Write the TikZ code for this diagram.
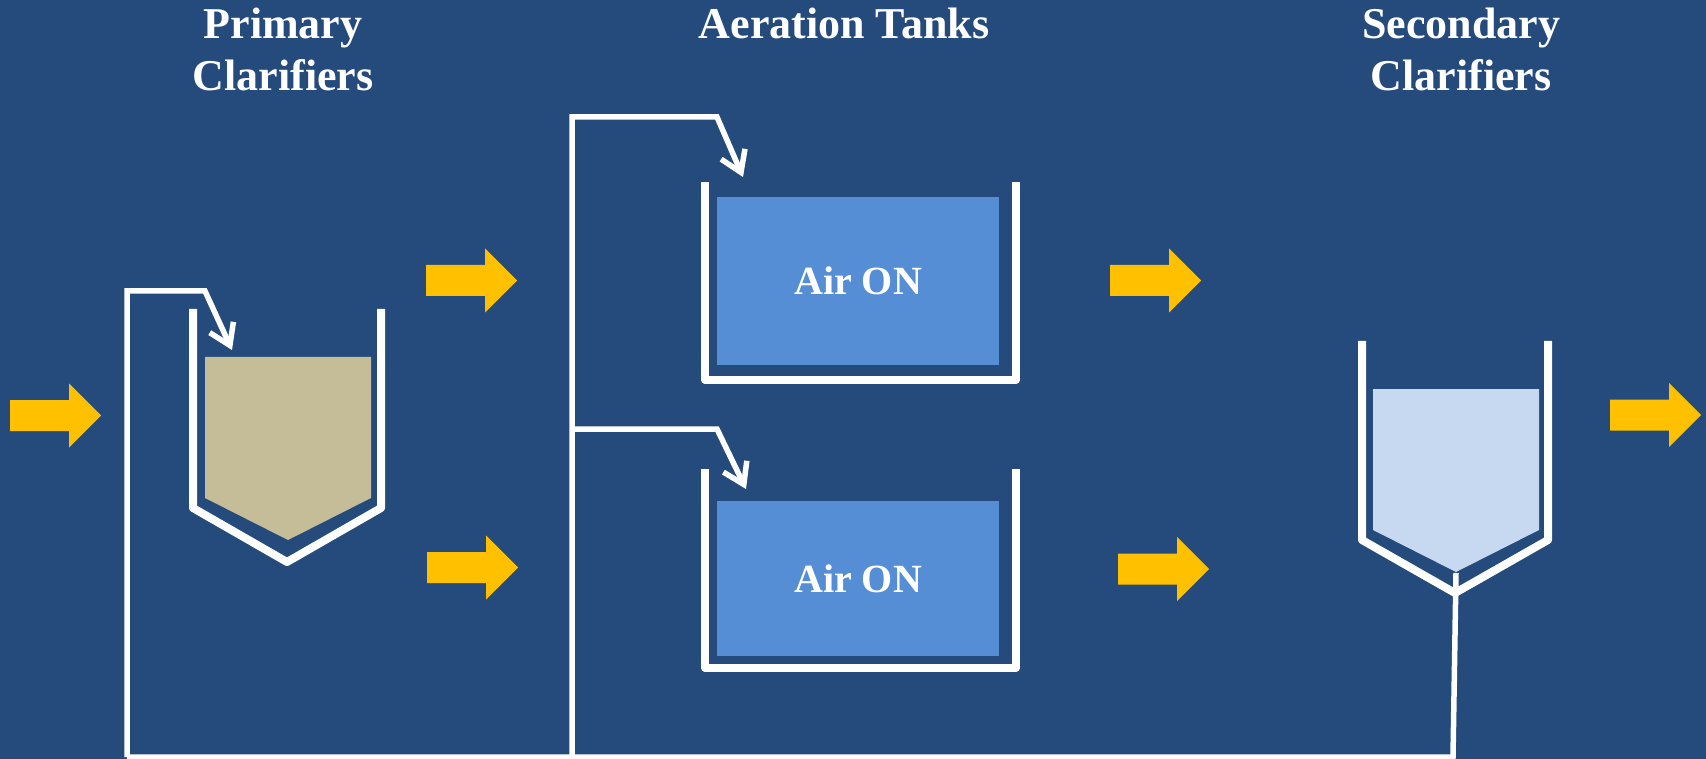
\documentclass[tikz,border=0pt]{standalone}
\usepackage{fontspec}
\setmainfont{Liberation Serif}
\usetikzlibrary{arrows.meta}
\definecolor{bg}{RGB}{37,74,124}
\definecolor{flowyellow}{RGB}{255,192,0}
\definecolor{airblue}{RGB}{85,142,213}
\definecolor{sludge}{RGB}{196,189,151}
\definecolor{clearblue}{RGB}{198,217,241}
\begin{document}
\begin{tikzpicture}[x=1pt,y=-1pt,
  title/.style={text=white,font=\fontsize{44}{52}\selectfont\bfseries,anchor=base,inner sep=0pt},
  airtank/.style={fill=airblue,text=white,font=\fontsize{40}{48}\selectfont\bfseries,
    minimum width=282pt,inner sep=0pt},
  wall/.style={draw=white,line width=8pt,line join=round},
  pipe/.style={draw=white,line width=5.5pt},
  feed/.style={pipe,-{Straight Barb[length=20pt,width=26pt]}},
  flowarrow/.pic={\fill[flowyellow] (0,-15.5) -- (59,-15.5) -- (59,-32) -- (91,0) -- (59,32) -- (59,15.5) -- (0,15.5) -- cycle;}
]
\fill[bg] (0,0) rectangle (1706,759);
\useasboundingbox (0,0) rectangle (1706,759);

% titles
\node[title] (tp1) at (283,39) {Primary};
\node[title] (tp2) at (283,91) {Clarifiers};
\node[title] (ta) at (844,39) {Aeration Tanks};
\node[title] (ts1) at (1461,39) {Secondary};
\node[title] (ts2) at (1461,91) {Clarifiers};

% flow arrows
\pic at (10,415.5) {flowarrow};
\pic at (426,280.5) {flowarrow};
\pic at (427,567.5) {flowarrow};
\pic at (1110,280.5) {flowarrow};
\pic at (1118,569) {flowarrow};
\pic at (1610,415) {flowarrow};

% primary clarifier
\fill[sludge] (205,357) -- (371,357) -- (371,498) -- (288,540) -- (205,498) -- cycle;
\draw[wall] (193,309) -- (193,508) -- (287,562) -- (381,508) -- (381,309);

% aeration tanks
\node[airtank,minimum height=168pt] (air1) at (858,281) {Air ON};
\node[airtank,minimum height=155pt] (air2) at (858,578.5) {Air ON};
\draw[wall] (705,182) -- (705,380) -- (1016,380) -- (1016,182);
\draw[wall] (705,469) -- (705,668) -- (1016,668) -- (1016,469);

% secondary clarifier
\fill[clearblue] (1373,389) -- (1539,389) -- (1539,530) -- (1456,572) -- (1373,530) -- cycle;
\draw[wall] (1362,341) -- (1362,540) -- (1455,593) -- (1548,540) -- (1548,341);

% return piping
\coordinate (drainTop) at (1456,573);
\coordinate (drainBot) at (1453,757);
\coordinate (pBot) at (127,757);
\coordinate (pTop) at (127,291);
\coordinate (pBend) at (205,291);
\coordinate (pIn) at (232,350);
\coordinate (aBot) at (572,757);
\coordinate (aTop) at (572,117);
\coordinate (aBend1) at (717,117);
\coordinate (aIn1) at (743,177);
\coordinate (aMid) at (572,429);
\coordinate (aBend2) at (717,429);
\coordinate (aIn2) at (746,489);

\draw[pipe] (drainTop) -- (drainBot) -- (pBot);
\draw[feed] (pBot) -- (pTop) -- (pBend) -- (pIn);
\draw[feed] (aBot) -- (aTop) -- (aBend1) -- (aIn1);
\draw[feed] (aMid) -- (aBend2) -- (aIn2);
\end{tikzpicture}
\end{document}
